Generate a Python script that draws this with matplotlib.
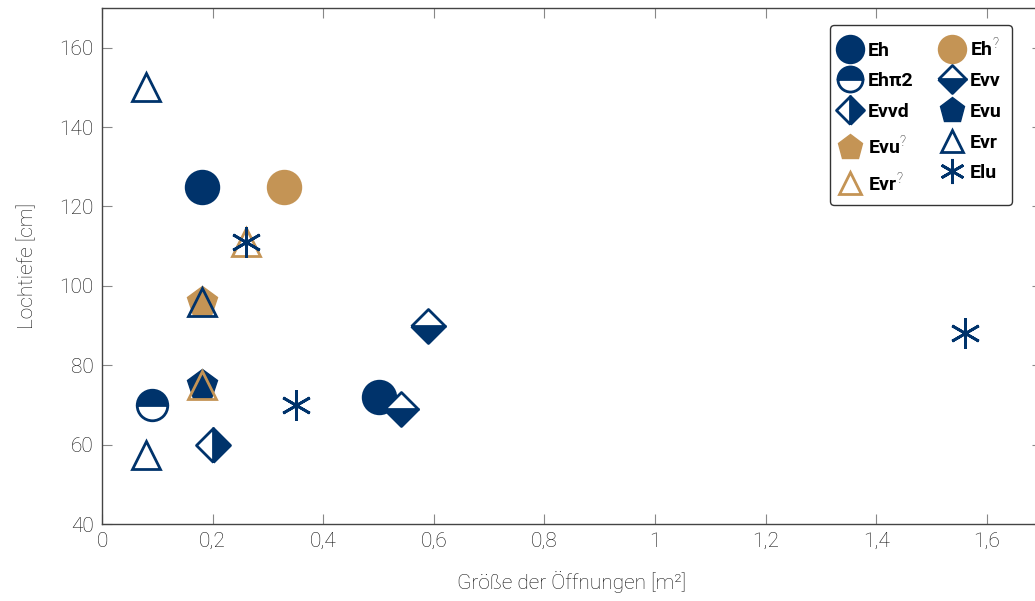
import matplotlib
matplotlib.use("Agg")
import matplotlib.pyplot as plt
from matplotlib.lines import Line2D
from matplotlib.markers import MarkerStyle

navy = "#00336b"
gold = "#c49455"

# data: (x = opening size m2, y = hole depth cm)
eh_x = [0.18, 0.50]
eh_y = [125, 72]
eh_q_x = [0.33]
eh_q_y = [125]
ehpi2_x = [0.09]
ehpi2_y = [70]
evvd_x = [0.20]
evvd_y = [60]
evv_x = [0.59, 0.54]
evv_y = [90, 69]
evu_x = [0.18]
evu_y = [75]
evu_q_x = [0.18]
evu_q_y = [96]
evr_x = [0.08, 0.08, 0.18]
evr_y = [150, 57.5, 96]
evr_q_x = [0.26, 0.18]
evr_q_y = [111, 75]
elu_x = [0.26, 0.35, 1.56]
elu_y = [111, 70, 88]

plt.rcParams['font.family'] = ['Roboto', 'DejaVu Sans']
plt.rcParams['mathtext.fontset'] = 'custom'
plt.rcParams['mathtext.rm'] = 'Roboto:light'
plt.rcParams['mathtext.it'] = 'Roboto:light'

fig = plt.figure(figsize=(10.35, 6.01), dpi=100)
ax = fig.add_axes([102/1035, 77/601, 1.7*553/1035, 516/601])


def half(m, fs):
    return MarkerStyle(m, fillstyle=fs, joinstyle='round')


styles = {
    'Eh': dict(marker='o', ms=24, mfc=navy, mec=navy, mew=1.5),
    'Eh?': dict(marker='o', ms=24, mfc=gold, mec=gold, mew=1.5),
    'Ehpi2': dict(marker=half('o', 'top'), ms=22, mfc=navy, mfcalt='white', mec=navy, mew=2),
    'Evv': dict(marker=half('D', 'bottom'), ms=17, mfc=navy, mfcalt='white', mec=navy, mew=2),
    'Evvd': dict(marker=half('D', 'right'), ms=17, mfc=navy, mfcalt='white', mec=navy, mew=2),
    'Evu': dict(marker='p', ms=23, mfc=navy, mec=navy, mew=1),
    'Evu?': dict(marker='p', ms=23, mfc=gold, mec=gold, mew=1),
    'Evr': dict(marker=MarkerStyle('^', joinstyle='miter'), ms=20, mfc='none', mec=navy, mew=2),
    'Evr?': dict(marker=MarkerStyle('^', joinstyle='miter'), ms=20, mfc='none', mec=gold, mew=2),
    'Elu': dict(marker=(6, 2, 0), ms=22, mfc=navy, mec=navy, mew=2),
}

ax.plot(eh_x, eh_y, ls='none', zorder=3, **styles['Eh'])
ax.plot(eh_q_x, eh_q_y, ls='none', zorder=3, **styles['Eh?'])
ax.plot(ehpi2_x, ehpi2_y, ls='none', zorder=3, **styles['Ehpi2'])
ax.plot(evvd_x, evvd_y, ls='none', zorder=3, **styles['Evvd'])
ax.plot(evv_x, evv_y, ls='none', zorder=4, **styles['Evv'])
ax.plot(evu_x, evu_y, ls='none', zorder=3, **styles['Evu'])
ax.plot(evu_q_x, evu_q_y, ls='none', zorder=3, **styles['Evu?'])
ax.plot(evr_x, evr_y, ls='none', zorder=5, **styles['Evr'])
ax.plot(evr_q_x, evr_q_y, ls='none', zorder=5, **styles['Evr?'])
ax.plot(elu_x, elu_y, ls='none', zorder=6, **styles['Elu'])

ax.set_xlim(0, 1.7)
ax.set_ylim(40, 170)
ax.set_xticks([0, 0.2, 0.4, 0.6, 0.8, 1, 1.2, 1.4, 1.6])
ax.set_xticklabels(['0', '0,2', '0,4', '0,6', '0,8', '1', '1,2', '1,4', '1,6'])
ax.set_yticks([40, 60, 80, 100, 120, 140, 160])
ax.tick_params(direction='in', length=7, width=0.8, color='#888888',
               labelsize=15, labelcolor='#111111', top=True, right=True, pad=6)
for lab in ax.get_xticklabels() + ax.get_yticklabels():
    lab.set_fontweight('light')
for s in ax.spines.values():
    s.set_color('#444444')
    s.set_linewidth(1.0)

ax.set_xlabel('Größe der Öffnungen [m²]', fontsize=15,
              fontweight='light', color='#111111', labelpad=14)
ax.set_ylabel('Lochtiefe [cm]', fontsize=15, fontweight='light', color='#111111', labelpad=16)

order = ['Eh', 'Ehpi2', 'Evvd', 'Evu?', 'Evr?', 'Eh?', 'Evv', 'Evu', 'Evr', 'Elu']
names = {'Eh': 'Eh', 'Ehpi2': 'Ehπ2', 'Evvd': 'Evvd', 'Evu?': 'Evu$^{?}$', 'Evr?': 'Evr$^{?}$',
         'Eh?': 'Eh$^{?}$', 'Evv': 'Evv', 'Evu': 'Evu', 'Evr': 'Evr', 'Elu': 'Elu'}
handles = [Line2D([0], [0], ls='none', **styles[k]) for k in order]
leg = ax.legend(handles, [names[k] for k in order], ncol=2, loc='upper right',
                bbox_to_anchor=(910/940, 1 - 17/516), borderaxespad=0,
                prop={'weight': 'bold', 'size': 14}, markerscale=0.82,
                handlelength=1.0, handletextpad=0.4, columnspacing=1.5,
                labelspacing=0.65, frameon=True, fancybox=True, borderpad=0.55)
leg.get_frame().set_edgecolor('black')
leg.get_frame().set_linewidth(1.0)
leg.set_zorder(10)

fig.savefig('out.png', dpi=100)
